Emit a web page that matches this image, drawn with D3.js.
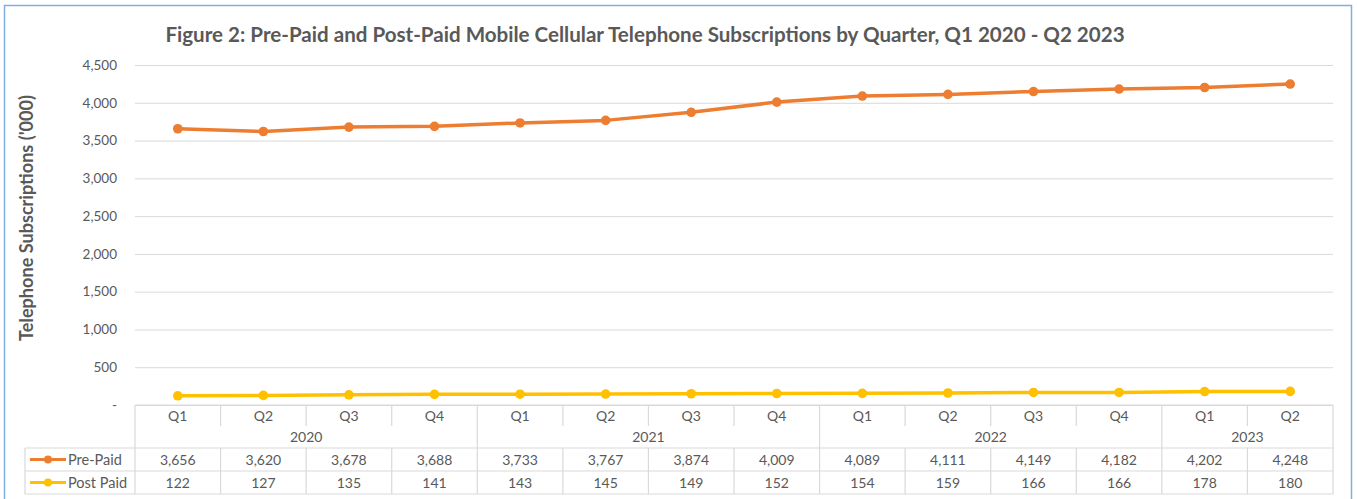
<!DOCTYPE html>
<html><head><meta charset="utf-8">
<script src="https://cdn.jsdelivr.net/npm/d3@7"></script>
<style>body{margin:0;background:#fff}svg{display:block}</style>
</head><body><svg id="c" width="1357" height="499"></svg>
<script>
const quarters = ["Q1","Q2","Q3","Q4","Q1","Q2","Q3","Q4","Q1","Q2","Q3","Q4","Q1","Q2"];
const years = [{label:"2020",n:4},{label:"2021",n:4},{label:"2022",n:4},{label:"2023",n:2}];
const prePaid = [3656,3620,3678,3688,3733,3767,3874,4009,4089,4111,4149,4182,4202,4248];
const postPaid = [122,127,135,141,143,145,149,152,154,159,166,166,178,180];
const yTicks = [0,500,1000,1500,2000,2500,3000,3500,4000,4500];
const series = [{name:"Pre-Paid",values:prePaid,color:"#ED7D31"},{name:"Post Paid",values:postPaid,color:"#FFC000"}];

const svg = d3.select("#c");
const FONT = "Lato, 'Open Sans', sans-serif";
const txt = "#595959", grid = "#d9d9d9";
const L = 135, R = 1333, T = 65, B = 405;
const idx = d3.range(quarters.length);
const x = d3.scaleBand().domain(idx).range([L,R]);
const y = d3.scaleLinear().domain([0,4500]).range([B,T]);

// border
svg.append("rect").attr("x",4.5).attr("y",5.5).attr("width",1347).attr("height",520)
  .attr("fill","none").attr("stroke","#7FAEE0").attr("stroke-width",1.5);

// title
const title = svg.append("text").attr("x",645).attr("y",42).attr("text-anchor","middle")
  .attr("font-family",FONT).attr("font-weight","bold").attr("font-size",20).attr("fill",txt)
  .text("Figure 2: Pre-Paid and Post-Paid Mobile Cellular Telephone Subscriptions by Quarter, Q1 2020 - Q2 2023");
function fit(sel,target){const w=sel.node().getComputedTextLength();const fs=+sel.attr("font-size");sel.attr("font-size",fs*target/w);}
fit(title,960);

// y axis title
const yt = svg.append("text").attr("transform","translate(33,218) rotate(-90)").attr("text-anchor","middle")
  .attr("font-family",FONT).attr("font-weight","bold").attr("font-size",14).attr("fill",txt)
  .text("Telephone Subscriptions ('000)");
fit(yt,246);

// gridlines
const yAxis = d3.axisLeft(y).tickValues(yTicks).tickSize(-(R-L)).tickPadding(18)
  .tickFormat(d=> d===0 ? "-" : d3.format(",")(d));
const ga = svg.append("g").attr("transform",`translate(${L},0)`).call(yAxis);
ga.select(".domain").remove();
ga.selectAll(".tick line").attr("stroke",grid).attr("stroke-width",1);
ga.selectAll(".tick text").attr("font-family",FONT).attr("font-size",13.5).attr("fill",txt);

// table lines
const lineG = svg.append("g").attr("stroke",grid).attr("stroke-width",1.2);
const rowQ = [405,427], rowY=[427,448], rowD=[448,471,494];
lineG.append("line").attr("x1",L).attr("x2",R).attr("y1",405).attr("y2",405);
lineG.append("line").attr("x1",25).attr("x2",R).attr("y1",448).attr("y2",448);
lineG.append("line").attr("x1",25).attr("x2",R).attr("y1",471).attr("y2",471);
lineG.append("line").attr("x1",25).attr("x2",R).attr("y1",494).attr("y2",494);
lineG.append("line").attr("x1",25).attr("x2",25).attr("y1",448).attr("y2",494);
// year boundaries
let cum=0; const yearBounds=[0];
years.forEach(yr=>{cum+=yr.n; yearBounds.push(cum);});
idx.concat([quarters.length]).forEach(i=>{
  const xx = i<quarters.length ? x(i) : R;
  const isYear = yearBounds.includes(i);
  if(isYear){
    lineG.append("line").attr("x1",xx).attr("x2",xx).attr("y1",405).attr("y2",494);
  } else {
    lineG.append("line").attr("x1",xx).attr("x2",xx).attr("y1",405).attr("y2",426);
    lineG.append("line").attr("x1",xx).attr("x2",xx).attr("y1",448).attr("y2",494);
  }
});

// quarter labels
const tf = {"font-family":FONT,"font-size":14,"fill":txt};
function styl(s){Object.entries(tf).forEach(([k,v])=>s.attr(k,v));return s;}
styl(svg.append("g").selectAll("text").data(idx).join("text")
  .attr("x",i=>x(i)+x.bandwidth()/2).attr("y",421).attr("text-anchor","middle").text(i=>quarters[i]));
// year labels
styl(svg.append("g").selectAll("text").data(years).join("text")
  .attr("x",(d,i)=>(x(yearBounds[i]) + (yearBounds[i+1]<quarters.length?x(yearBounds[i+1]):R))/2)
  .attr("y",442).attr("text-anchor","middle").text(d=>d.label));
// data rows
series.forEach((s,si)=>{
  const cy = si===0?465:488;
  styl(svg.append("g").selectAll("text").data(s.values).join("text")
    .attr("x",(d,i)=>x(i)+x.bandwidth()/2).attr("y",cy).attr("text-anchor","middle").text(d=>d3.format(",")(d)));
  const ly = si===0?459.5:482.5;
  svg.append("line").attr("x1",30).attr("x2",66).attr("y1",ly).attr("y2",ly).attr("stroke",s.color).attr("stroke-width",3);
  svg.append("circle").attr("cx",48).attr("cy",ly).attr("r",4).attr("fill",s.color);
  styl(svg.append("text").attr("x",68).attr("y",cy).text(s.name)).attr("font-size",14.5);
});

// lines
const line = d3.line().x((d,i)=>x(i)+x.bandwidth()/2).y(d=>y(d));
series.forEach(s=>{
  svg.append("path").datum(s.values).attr("d",line).attr("fill","none").attr("stroke",s.color)
    .attr("stroke-width",3.5).attr("stroke-linejoin","round");
  svg.append("g").selectAll("circle").data(s.values).join("circle")
    .attr("cx",(d,i)=>x(i)+x.bandwidth()/2).attr("cy",d=>y(d)).attr("r",4.8).attr("fill",s.color);
});
</script></body></html>
